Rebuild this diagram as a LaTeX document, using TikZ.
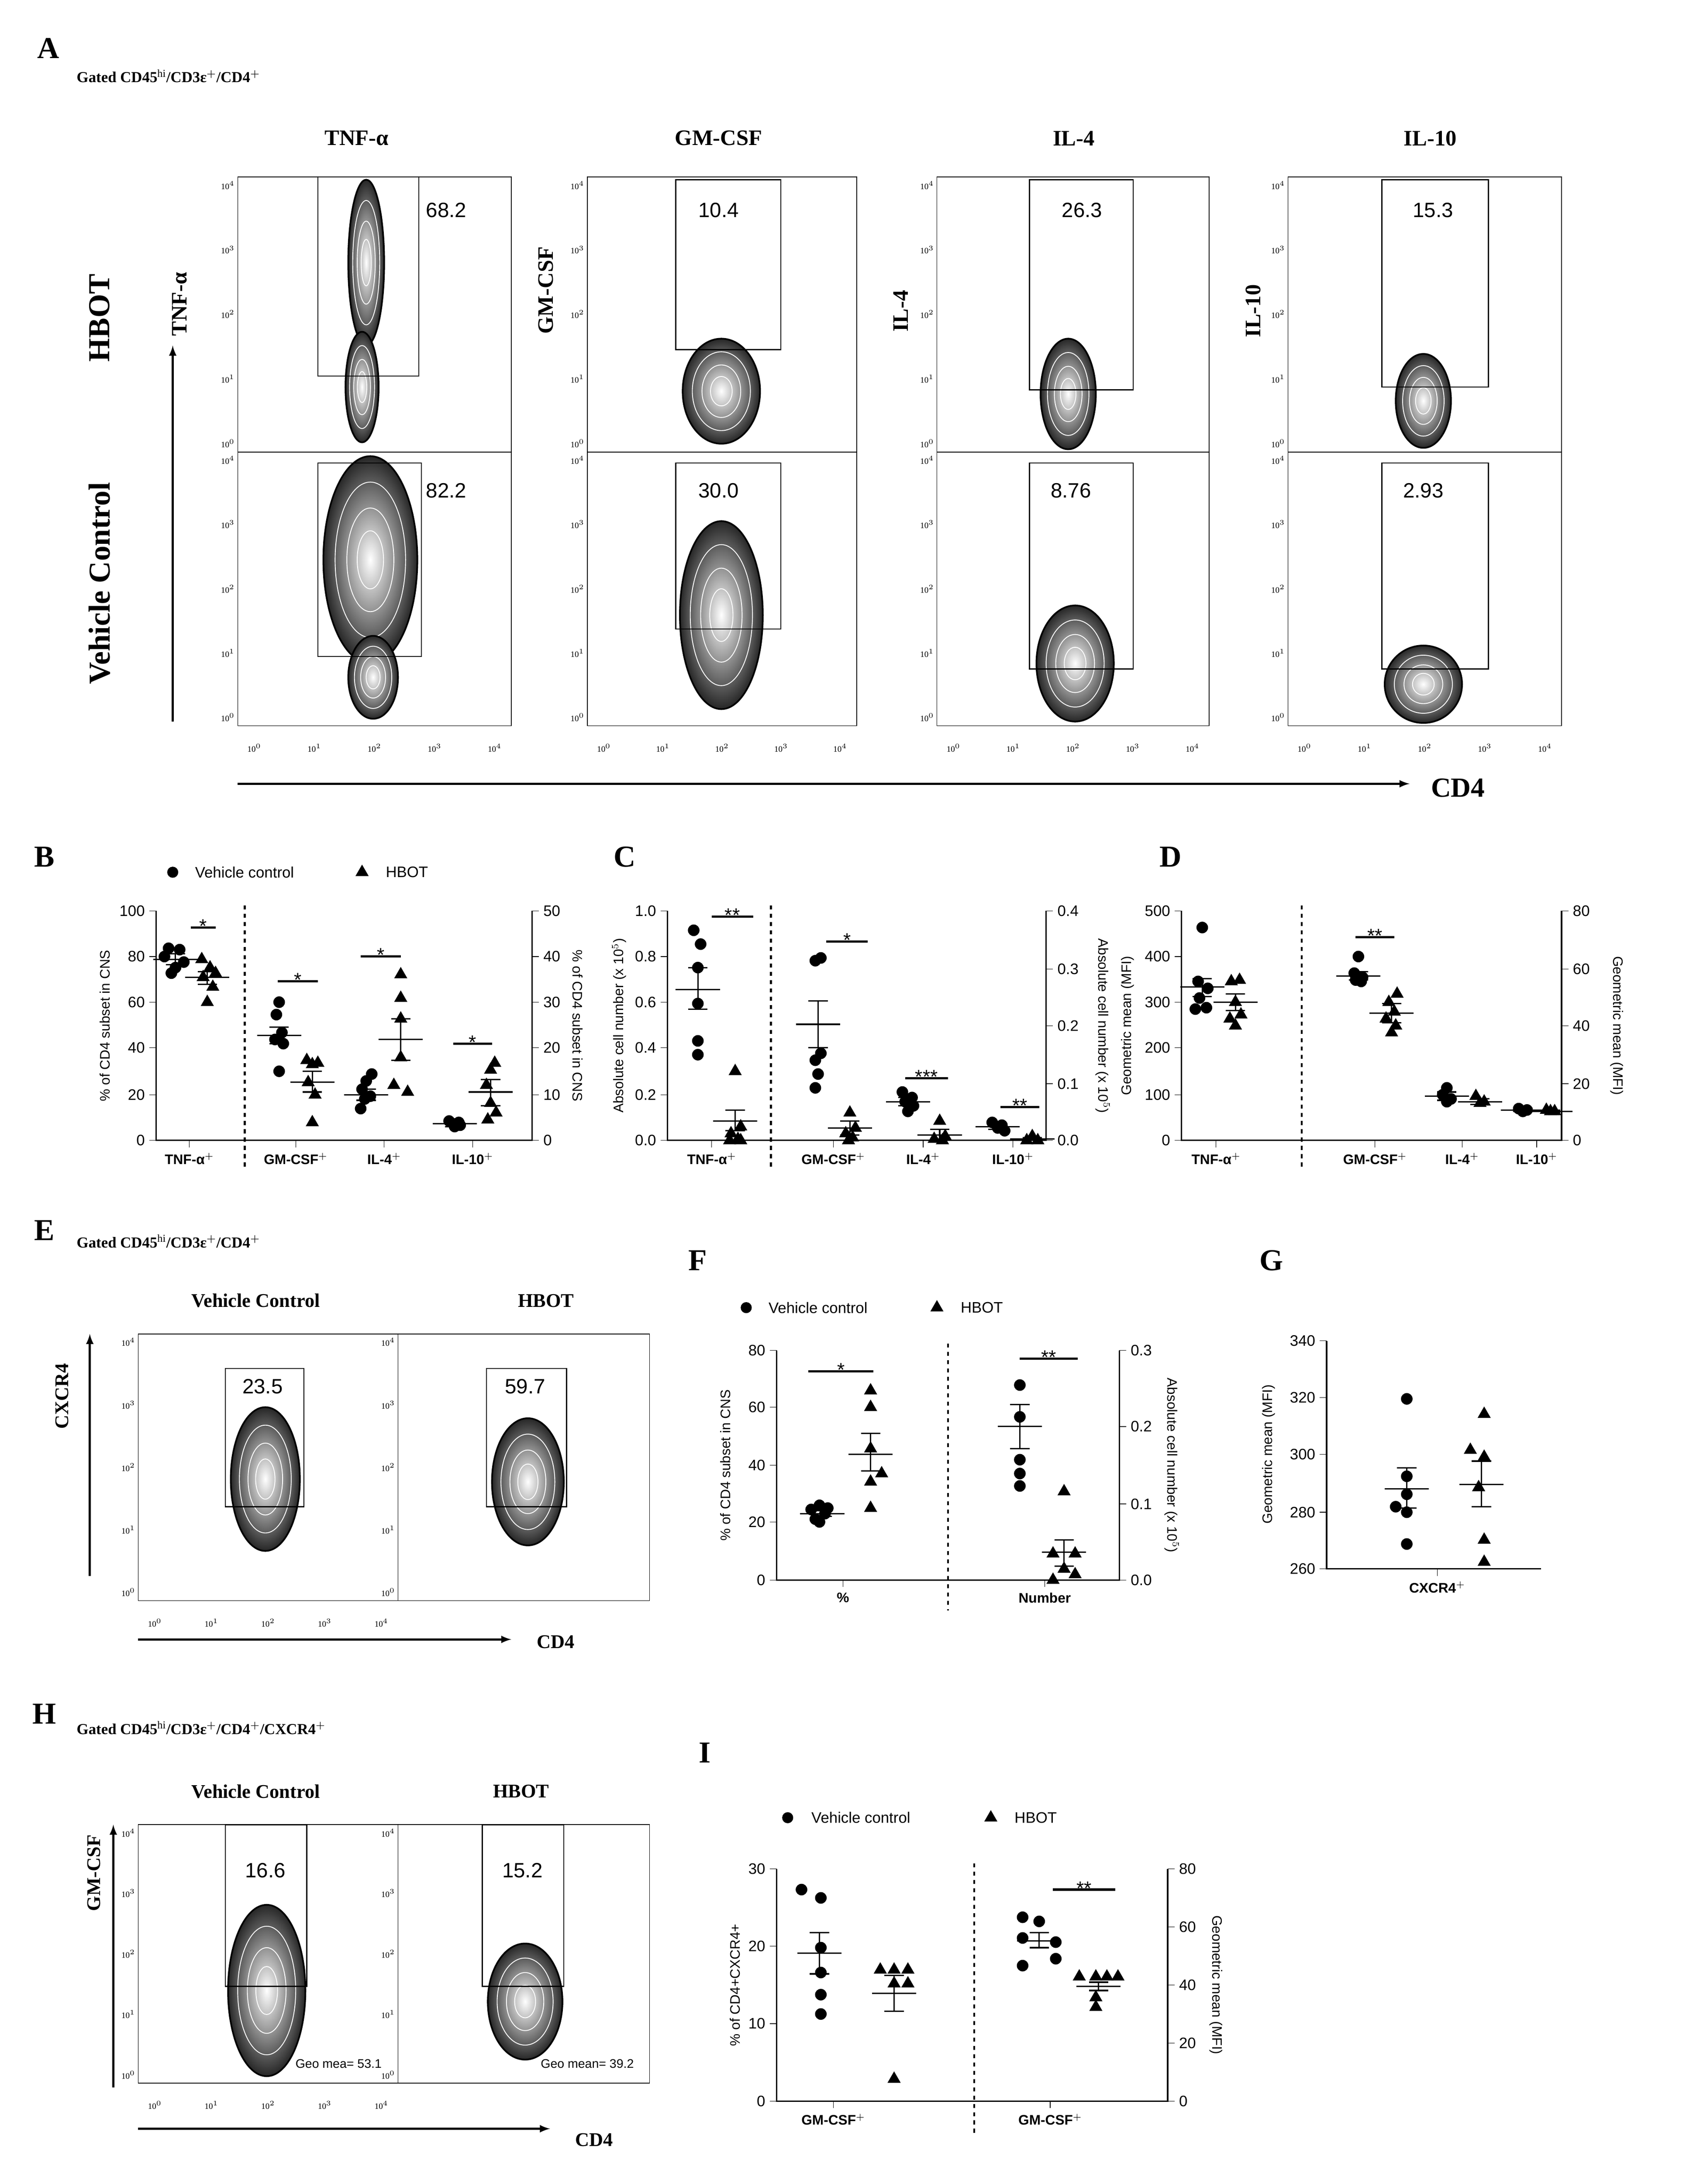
\documentclass[tikz,border=0pt]{standalone}
\usepackage{fontspec}
\setmainfont{Liberation Serif}
\setsansfont{Liberation Sans}
\usetikzlibrary{shapes.geometric}
\tikzset{
 tk/.style={font=\fontsize{6}{6}\selectfont,inner sep=1pt},
 lab/.style={font=\sffamily\fontsize{11}{12}\selectfont,inner sep=1pt},
 rlab/.style={font=\sffamily\fontsize{10}{11}\selectfont,inner sep=1pt},
 ttl/.style={font=\bfseries\fontsize{16}{18}\selectfont},
 plet/.style={font=\bfseries\fontsize{22}{24}\selectfont},
 gate/.style={line width=0.8pt},
 val/.style={font=\sffamily\fontsize{15}{16}\selectfont},
 tri/.style={regular polygon,regular polygon sides=3,fill=black,inner sep=0pt,minimum size=11pt},
 sig/.style={line width=1.6pt},
 dsh/.style={dashed,line width=1.5pt},
 ax/.style={line width=1pt},
}
\newcommand\flowbox[5]{%
 \draw[line width=0.5pt] (#1,#2) rectangle (#3,#4);
 \foreach \k in {0,...,4}{\node[tk,anchor=east] at (#1-1,{#4-6-\k*(#4-#2-12)/4}) {10$^{\k}$};}
 \ifnum#5=1 \foreach \k in {0,...,4}{\node[tk] at ({#1+12+\k*(#3-#1-24)/4},#4+16) {10$^{\k}$};}\fi}
\newcommand\blob[4]{%
 \shade[inner color=white,outer color=black!85] (#1,#2) ellipse ({#3} and {#4});
 \draw[white,line width=0.6pt] (#1,#2) ellipse ({0.75*#3} and {0.75*#4});
 \draw[white,line width=0.6pt] (#1,#2) ellipse ({0.5*#3} and {0.5*#4});
 \draw[white,line width=0.6pt] (#1,#2) ellipse ({0.28*#3} and {0.28*#4});
 \draw[black,line width=1.2pt] (#1,#2) ellipse ({#3} and {#4});}
\newcommand\dotpts[2]{\foreach \dx/\yy in {#2}{\fill ({#1+\dx},\yy) circle (4.2);}}
\newcommand\tris[2]{\foreach \dx/\yy in {#2}{\node[tri] at ({#1+\dx},\yy) {};}}
\newcommand\msem[4]{\draw[line width=1pt] (#1-16,#2)--(#1+16,#2); \draw[line width=1pt] (#1,#3)--(#1,#4) (#1-7,#3)--(#1+7,#3) (#1-7,#4)--(#1+7,#4);}
\newcommand\sigl[4]{\draw[sig] (#1,#3)--(#2,#3); \node[font=\sffamily\fontsize{14}{14}\selectfont,anchor=south,inner sep=0pt] at ({(#1+#2)/2},#3+4) {#4};}
\newcommand\yticks[4]{%
 \foreach \yy/\t in {#2}{\draw ({#1},\yy)--({#1+#3*5},\yy); \node[lab,anchor=#4] at ({#1+#3*7},\yy) {\t};}}
\begin{document}
\begin{tikzpicture}[x=1pt,y=-1pt]
\useasboundingbox (0,0) rectangle (1225,1580);
% ===== A =====
\node[plet] at (35,35) {A};
\node[font=\bfseries\fontsize{11}{12}\selectfont,anchor=west] at (52,55) {Gated CD45$^{\mathrm{hi}}$/CD3ε$^{+}$/CD4$^{+}$};
\foreach \x/\t in {258/TNF-α,520/GM-CSF,777/IL-4,1035/IL-10}{\node[ttl] at (\x,100) {\t};}
\node[ttl,font=\bfseries\fontsize{22}{24}\selectfont,rotate=90] at (72,230) {HBOT};
\node[ttl,font=\bfseries\fontsize{22}{24}\selectfont,rotate=90] at (72,422) {Vehicle Control};
\foreach \x/\t/\y in {130/TNF-α/220,395/GM-CSF/210,652/IL-4/225,907/IL-10/225}{\node[ttl,rotate=90] at (\x,\y) {\t};}
\draw[-latex,line width=1.5pt] (125,522)--(125,250);
\draw[-latex,line width=1.5pt] (172,567)--(1020,567);
\node[ttl,font=\bfseries\fontsize{20}{22}\selectfont] at (1055,570) {CD4};
\blob{265}{190}{13}{60}\blob{262}{280}{12}{40}
\blob{268}{405}{34}{75}\blob{270}{490}{18}{30}
\blob{522}{283}{28}{38}\blob{522}{445}{30}{68}
\blob{773}{285}{20}{40}\blob{778}{480}{28}{42}
\blob{1030}{290}{20}{34}\blob{1030}{495}{28}{28}
\foreach \a/\b in {172/370,425/620,678/875,932/1130}{\flowbox{\a}{128}{\b}{327}{0}\flowbox{\a}{327}{\b}{525}{1}}
\foreach \a/\b/\c/\d/\v/\w in {230/303/128/272/68.2/323,489/565/130/253/10.4/520,745/820/130/282/26.3/783,1000/1077/130/280/15.3/1037}{
 \draw[gate] (\a,\c) rectangle (\b,\d); \node[val] at (\w,152) {\v};}
\foreach \a/\b/\d/\v/\w in {230/305/475/82.2/323,489/565/455/30.0/520,745/820/484/8.76/775,1000/1077/484/2.93/1030}{
 \draw[gate] (\a,335) rectangle (\b,\d); \node[val] at (\w,355) {\v};}
% ===== B =====
\node[plet] at (32,620) {B};
\fill (125,631) circle (4); \node[lab,anchor=west] at (140,631) {Vehicle control};
\node[tri] at (262,631) {}; \node[lab,anchor=west] at (278,631) {HBOT};
\draw[ax] (113,659)--(113,825)--(385,825)--(385,659);
\yticks{113}{825/0,792/20,758/40,725/60,692/80,659/100}{-1}{east}
\yticks{385}{825/0,792/10,758/20,725/30,692/40,659/50}{1}{west}
\node[rlab,rotate=90] at (76,742) {\% of CD4 subset in CNS};
\node[rlab,rotate=-90] at (418,742) {\% of CD4 subset in CNS};
\draw[dsh] (177,655)--(177,845);
\foreach \x/\t in {137/TNF-α$^{+}$,214/GM-CSF$^{+}$,278/IL-4$^{+}$,342/IL-10$^{+}$}{\draw (\x,825)--(\x,830);\node[lab,font=\sffamily\bfseries\fontsize{10}{11}\selectfont,anchor=north] at (\x,833) {\t};}
\dotpts{127}{-5/686,3/687,-8/692,6/696,0/700,-3/704}\msem{127}{694}{690}{698}
\tris{150}{-4/694,2/700,6/704,-3/707,4/714,0/725}\msem{150}{707}{703}{712}
\dotpts{202}{0/725,-2/734,2/747,-3/752,3/755,0/775}\msem{202}{749}{743}{755}
\tris{226}{-4/767,4/769,0/770,-3/783,2/792,0/812}\msem{226}{783}{775}{790}
\dotpts{265}{4/777,0/782,-3/788,3/793,-1/795,-4/802}\msem{265}{792}{788}{796}
\tris{290}{0/705,0/722,0/737,0/765,-5/785,5/790}\msem{290}{752}{737}{767}
\dotpts{329}{-4/811,3/812,-1/813,4/814,0/815}\msem{329}{813}{811}{815}
\tris{355}{3/769,0/774,-3/785,0/798,4/805,-2/810}\msem{355}{790}{781}{800}
\sigl{138}{156}{671}{*}\sigl{201}{230}{710}{*}\sigl{261}{290}{692}{*}\sigl{328}{356}{755}{*}
% ===== C =====
\node[plet] at (452,620) {C};
\draw[ax] (483,659)--(483,825)--(757,825)--(757,659);
\yticks{483}{825/0.0,792/0.2,758/0.4,725/0.6,692/0.8,659/1.0}{-1}{east}
\yticks{757}{825/0.0,784/0.1,742/0.2,701/0.3,659/0.4}{1}{west}
\node[rlab,rotate=90] at (448,742) {Absolute cell number (x 10$^{5}$)};
\node[rlab,rotate=-90] at (798,742) {Absolute cell number (x 10$^{5}$)};
\draw[dsh] (558,655)--(558,845);
\foreach \x/\t in {515/TNF-α$^{+}$,603/GM-CSF$^{+}$,668/IL-4$^{+}$,733/IL-10$^{+}$}{\draw (\x,825)--(\x,830);\node[lab,font=\sffamily\bfseries\fontsize{10}{11}\selectfont,anchor=north] at (\x,833) {\t};}
\dotpts{505}{-3/673,2/683,0/700,0/726,0/753,0/763}\msem{505}{716}{700}{730}
\tris{532}{0/775,4/815,-3/820,2/824,-4/825,4/825}\msem{532}{811}{803}{818}
\dotpts{592}{2/693,-2/695,2/762,-2/767,0/777,-2/787}\msem{592}{741}{724}{758}
\tris{615}{0/805,4/816,-3/820,2/823,-1/825}\msem{615}{816}{811}{821}
\dotpts{657}{-4/790,3/794,-2/797,4/800,0/804}\msem{657}{797}{794}{800}
\tris{680}{0/811,4/822,-4/824,2/825}\msem{680}{821}{817}{824}
\dotpts{722}{-4/812,3/814,0/816,5/818}\msem{722}{815}{813}{817}
\tris{747}{0/822,4/825,-4/825}\msem{747}{824}{823}{825}
\sigl{515}{545}{663}{**}\sigl{598}{628}{681}{*}\sigl{655}{686}{780}{***}\sigl{724}{752}{801}{**}
% ===== D =====
\node[plet] at (847,620) {D};
\draw[ax] (855,659)--(855,825)--(1130,825)--(1130,659);
\yticks{855}{825/0,792/100,758/200,725/300,692/400,659/500}{-1}{east}
\yticks{1130}{825/0,784/20,742/40,701/60,659/80}{1}{west}
\node[rlab,rotate=90] at (816,742) {Geometric mean (MFI)};
\node[rlab,rotate=-90] at (1170,742) {Geometric mean (MFI)};
\draw[dsh] (942,655)--(942,845);
\foreach \x/\t in {880/TNF-α$^{+}$,995/GM-CSF$^{+}$,1058/IL-4$^{+}$,1112/IL-10$^{+}$}{\draw (\x,825)--(\x,830);\node[lab,font=\sffamily\bfseries\fontsize{10}{11}\selectfont,anchor=north] at (\x,833) {\t};}
\dotpts{870}{0/671,-3/710,4/715,-2/722,3/729,-5/730}\msem{870}{714}{708}{721}
\tris{894}{3/709,-3/710,0/725,4/734,-4/737,0/742}\msem{894}{725}{719}{731}
\dotpts{983}{0/692,-3/704,3/707,-2/709,2/710}\msem{983}{706}{703}{709}
\tris{1007}{4/719,-2/725,2/732,-4/737,3/742,0/747}\msem{1007}{733}{726}{740}
\dotpts{1047}{0/787,-3/792,3/795,0/797}\msem{1047}{793}{790}{796}
\tris{1071}{-3/793,3/797,0/798}\msem{1071}{797}{795}{799}
\dotpts{1102}{-3/802,3/803,0/804}\msem{1102}{803}{802}{804}
\tris{1122}{-3/803,3/804,0/804}\msem{1122}{804}{803}{805}
\sigl{981}{1009}{678}{**}
% ===== E =====
\node[plet] at (32,890) {E};
\node[font=\bfseries\fontsize{11}{12}\selectfont,anchor=west] at (52,898) {Gated CD45$^{\mathrm{hi}}$/CD3ε$^{+}$/CD4$^{+}$};
\node[ttl,font=\bfseries\fontsize{14}{16}\selectfont] at (185,941) {Vehicle Control};
\node[ttl,font=\bfseries\fontsize{14}{16}\selectfont] at (395,941) {HBOT};
\node[ttl,font=\bfseries\fontsize{14}{16}\selectfont,rotate=90] at (45,1010) {CXCR4};
\draw[-latex,line width=1.5pt] (65,1140)--(65,965);
\draw[-latex,line width=1.5pt] (100,1186)--(370,1186);
\node[ttl,font=\bfseries\fontsize{14}{16}\selectfont] at (402,1188) {CD4};
\blob{192}{1070}{25}{52}\blob{382}{1072}{26}{46}
\flowbox{100}{965}{288}{1158}{1}\flowbox{288}{965}{470}{1158}{0}
\draw[gate] (163,990) rectangle (220,1090); \node[val] at (190,1003) {23.5};
\draw[gate] (352,990) rectangle (410,1090); \node[val] at (380,1003) {59.7};
% ===== F =====
\node[plet] at (505,912) {F};
\fill (540,946) circle (4); \node[lab,anchor=west] at (555,946) {Vehicle control};
\node[tri] at (678,946) {}; \node[lab,anchor=west] at (694,946) {HBOT};
\draw[ax] (562,977)--(562,1143)--(810,1143)--(810,977);
\yticks{562}{1143/0,1101/20,1060/40,1018/60,977/80}{-1}{east}
\yticks{810}{1143/0.0,1088/0.1,1032/0.2,977/0.3}{1}{west}
\node[rlab,rotate=90] at (525,1060) {\% of CD4 subset in CNS};
\node[rlab,rotate=-90] at (848,1060) {Absolute cell number (x 10$^{5}$)};
\draw[dsh] (686,972)--(686,1165);
\foreach \x/\t in {610/\%,756/Number}{\draw (\x,1143)--(\x,1148);\node[lab,font=\sffamily\bfseries\fontsize{10}{11}\selectfont,anchor=north] at (\x,1151) {\t};}
\dotpts{593}{-6/1092,0/1089,6/1091,-3/1099,4/1095,0/1101}\msem{595}{1095}{1093}{1097}
\tris{630}{0/1006,0/1018,0/1048,8/1066,0/1072,0/1091}\msem{630}{1052}{1064}{1037}
\dotpts{738}{0/1002,0/1025,0/1056,0/1066,0/1075}\msem{738}{1032}{1048}{1016}
\tris{770}{0/1079,-8/1124,8/1124,0/1135,8/1139,-8/1143}\msem{770}{1123}{1133}{1114}
\sigl{585}{632}{992}{*}\sigl{738}{780}{983}{**}
% ===== G =====
\node[plet] at (920,912) {G};
\draw[ax] (960,970)--(960,1135)--(1115,1135);
\yticks{960}{1135/260,1094/280,1052/300,1011/320,970/340}{-1}{east}
\node[rlab,rotate=90] at (918,1052) {Geometric mean (MFI)};
\draw (1040,1135)--(1040,1140); \node[lab,font=\sffamily\bfseries\fontsize{10}{11}\selectfont,anchor=north] at (1040,1143) {CXCR4$^{+}$};
\dotpts{1018}{0/1012,0/1068,0/1081,-8/1090,0/1094,0/1117}\msem{1018}{1077}{1062}{1091}
\tris{1070}{4/1023,-6/1049,4/1054,0/1076,4/1114,4/1130}\msem{1072}{1074}{1057}{1090}
% ===== H =====
\node[plet] at (32,1240) {H};
\node[font=\bfseries\fontsize{11}{12}\selectfont,anchor=west] at (52,1250) {Gated CD45$^{\mathrm{hi}}$/CD3ε$^{+}$/CD4$^{+}$/CXCR4$^{+}$};
\node[ttl,font=\bfseries\fontsize{14}{16}\selectfont] at (185,1296) {Vehicle Control};
\node[ttl,font=\bfseries\fontsize{14}{16}\selectfont] at (377,1296) {HBOT};
\node[ttl,font=\bfseries\fontsize{14}{16}\selectfont,rotate=90] at (68,1355) {GM-CSF};
\draw[-latex,line width=1.5pt] (82,1510)--(82,1320);
\draw[-latex,line width=1.5pt] (100,1540)--(398,1540);
\node[ttl,font=\bfseries\fontsize{14}{16}\selectfont] at (430,1548) {CD4};
\blob{193}{1440}{28}{62}\blob{380}{1448}{27}{42}
\flowbox{100}{1320}{288}{1507}{1}\flowbox{288}{1320}{470}{1507}{0}
\draw[gate] (163,1320) rectangle (222,1437); \node[val] at (192,1353) {16.6};
\draw[gate] (349,1320) rectangle (408,1437); \node[val] at (378,1353) {15.2};
\node[lab,font=\sffamily\fontsize{9}{10}\selectfont] at (245,1493) {Geo mea= 53.1};
\node[lab,font=\sffamily\fontsize{9}{10}\selectfont] at (425,1493) {Geo mean= 39.2};
% ===== I =====
\node[plet] at (510,1268) {I};
\fill (570,1315) circle (4); \node[lab,anchor=west] at (586,1315) {Vehicle control};
\node[tri] at (717,1315) {}; \node[lab,anchor=west] at (733,1315) {HBOT};
\draw[ax] (562,1352)--(562,1520)--(845,1520)--(845,1352);
\yticks{562}{1520/0,1464/10,1408/20,1352/30}{-1}{east}
\yticks{845}{1520/0,1478/20,1436/40,1394/60,1352/80}{1}{west}
\node[rlab,rotate=90] at (532,1436) {\% of CD4+CXCR4+};
\node[rlab,rotate=-90] at (880,1436) {Geometric mean (MFI)};
\draw[dsh] (705,1348)--(705,1545);
\foreach \x/\t in {603/GM-CSF$^{+}$,760/GM-CSF$^{+}$}{\draw (\x,1520)--(\x,1525);\node[lab,font=\sffamily\bfseries\fontsize{10}{11}\selectfont,anchor=north] at (\x,1528) {\t};}
\dotpts{590}{-10/1367,4/1373,4/1409,4/1427,4/1443,4/1457}\msem{593}{1413}{1398}{1428}
\tris{647}{-10/1425,0/1425,10/1425,0/1435,10/1435,0/1504}\msem{647}{1442}{1429}{1455}
\dotpts{750}{-10/1387,2/1390,-10/1402,14/1405,14/1417,-10/1422}\msem{752}{1404}{1398}{1409}
\tris{793}{-12/1430,0/1430,8/1430,16/1430,0/1445,0/1452}\msem{795}{1437}{1434}{1440}
\sigl{762}{807}{1367}{**}
\end{tikzpicture}
\end{document}
